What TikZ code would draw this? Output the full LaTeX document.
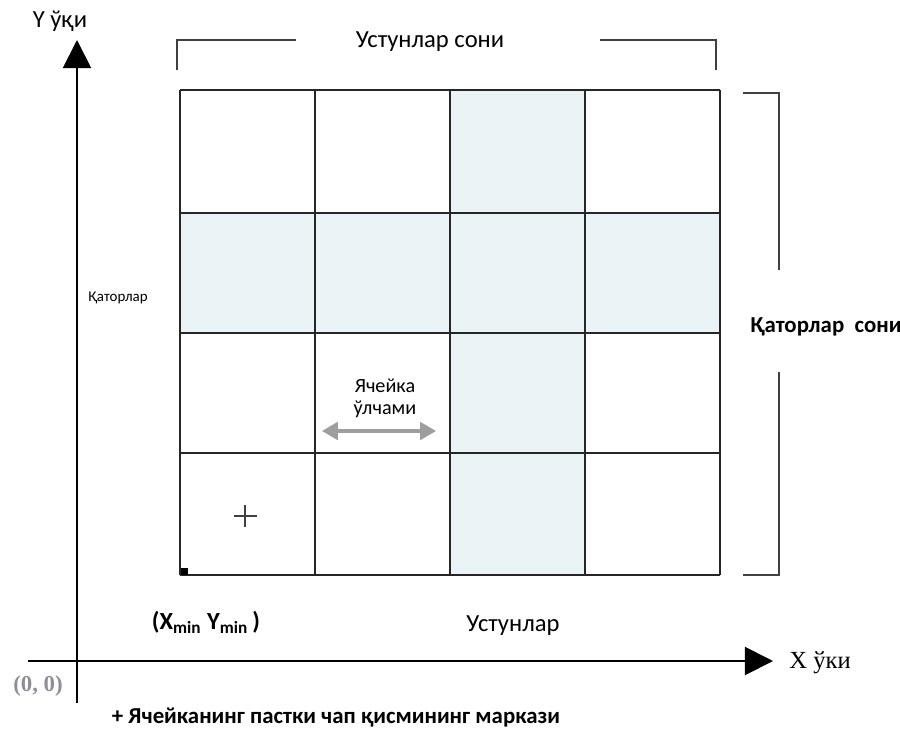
\documentclass[tikz,border=0pt]{standalone}
\usepackage{fontspec}
\setmainfont{Carlito}
\newfontfamily\timesfont{Liberation Serif}
\usetikzlibrary{arrows.meta}
\definecolor{cellblue}{HTML}{EAF4F6}
\definecolor{origingray}{HTML}{8E8E9A}
\newcommand{\labelfont}[1]{\fontsize{#1}{#1}\selectfont}

\begin{document}
\begin{tikzpicture}[x=0.02cm, y=-0.02cm,
	gridline/.style={line width=1.5pt, black!85},
	bracket/.style={line width=0.9pt, black!75},
	axis/.style={line width=1.1pt, -{Triangle[length=16pt, width=16pt]}},
	lbl/.style={inner sep=0pt, font=\labelfont{14}},
	sizearrow/.style={line width=1.8pt, black!38, {Triangle[length=9pt, width=10pt]}-{Triangle[length=9pt, width=10pt]}}]
		\useasboundingbox (0,0) rectangle (900,731);

		% shaded column and row
		\fill[cellblue] (450,90) rectangle (585,575);
		\fill[cellblue] (180,213) rectangle (720,333);

		% grid
		\foreach \x in {180,315,450,585,720}
			\draw[gridline] (\x,90) -- (\x,575);
		\foreach \y in {90,213,333,453,575}
			\draw[gridline] (180,\y) -- (720,\y);
		\fill[black] (181,568) rectangle (188,575);

		% axes
		\coordinate (ybot) at (77,703);
		\coordinate (ytip) at (77,40);
		\coordinate (xleft) at (28,661);
		\coordinate (xtip) at (773,661);
		\draw[axis] (ybot) -- (ytip);
		\draw[axis] (xleft) -- (xtip);

		% brackets
		\draw[bracket] (177,70) |- (296,40);
		\draw[bracket] (600,40) -| (716,70);
		\draw[bracket] (743,93) -| (779,270);
		\draw[bracket] (779,372) |- (743,575);

		% cell size
		\coordinate (sizeL) at (322,431);
		\coordinate (sizeR) at (436,431);
		\draw[sizearrow] (sizeL) -- (sizeR);
		\node[lbl, font=\labelfont{11.5}] (cellsize) at (385,386) {Ячейка};
		\node[lbl, font=\labelfont{11.5}] (cellsize2) at (385,409) {ўлчами};

		% centre mark
		\draw[black!75, line width=0.6pt] (234,516) -- (257,516);
		\draw[black!75, line width=0.6pt] (245,505) -- (245,527);

		\node[lbl] (yaxis) at (60,21) {Y ўқи};
		\node[lbl] (ncols) at (430,42) {Устунлар сони};
		\node[lbl, font=\labelfont{8.5}] (rows) at (118,298) {Қаторлар};
		\node[lbl, font=\bfseries\labelfont{13}] (nrows) at (826,327) {Қаторлар\ \ сони};
		\node[lbl, font=\bfseries\labelfont{14}] (xymin) at (206,622) {(X\textsubscript{min} Y\textsubscript{min}\,)};
		\node[lbl] (cols) at (513,626) {Устунлар};
		\node[lbl, font=\timesfont\labelfont{14}] (xaxis) at (820,663) {X ўки};
		\node[lbl, font=\timesfont\bfseries\labelfont{13}, text=origingray] (origin) at (38,686) {(0, 0)};
		\node[lbl, font=\bfseries\labelfont{13}] (legend) at (336,718) {+ Ячейканинг пастки чап қисмининг маркази};
\end{tikzpicture}
\end{document}
